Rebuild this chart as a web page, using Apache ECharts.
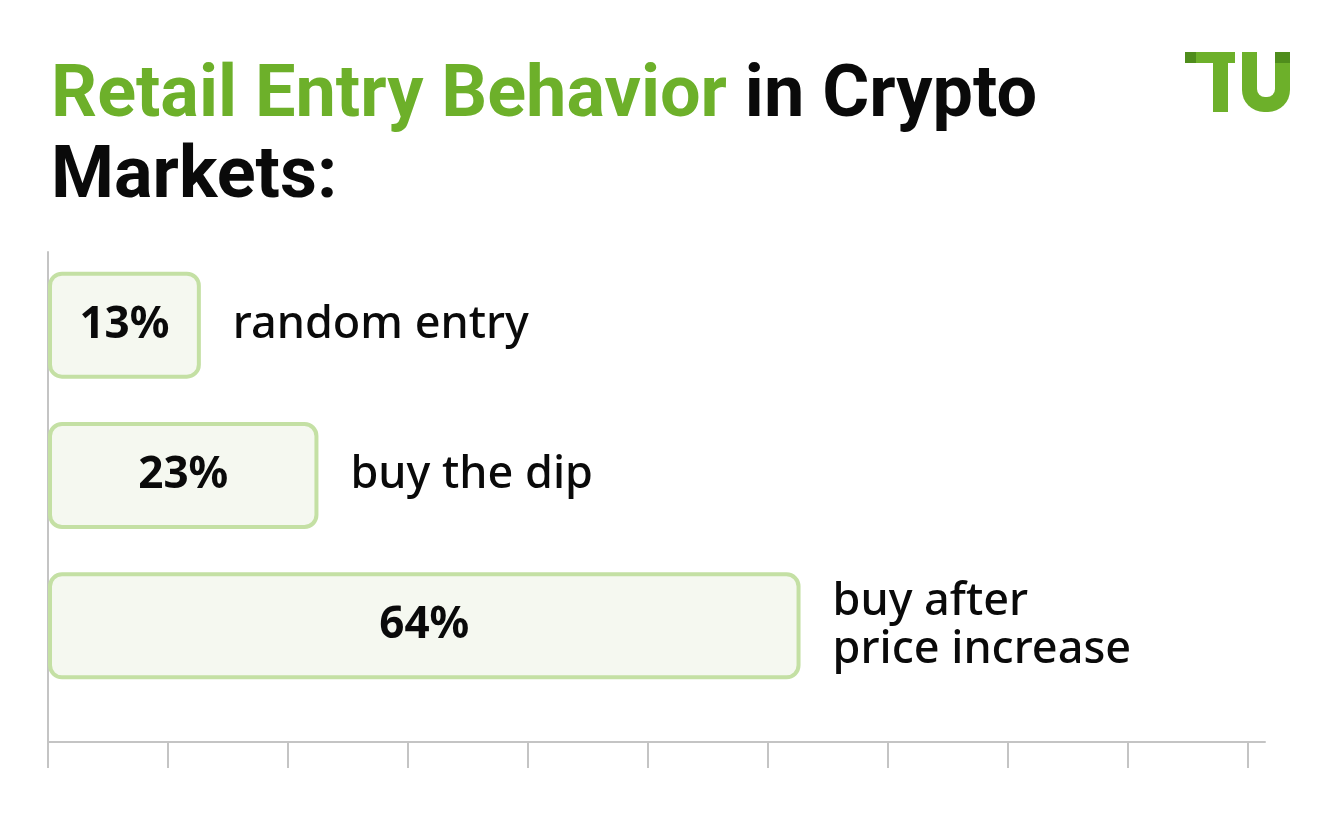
<!DOCTYPE html>
<html>
<head>
<meta charset="utf-8">
<script src="https://cdn.jsdelivr.net/npm/echarts@6/dist/echarts.min.js"></script>
<style>
  html, body { margin: 0; padding: 0; background: #fff; }
  #main { width: 1340px; height: 820px; }
</style>
</head>
<body>
<div id="main"></div>
<script>
// 数据
var categories = ['random entry', 'buy the dip', 'buy after\nprice increase'];
var shares = [13, 23, 64];
var xMax = 103.5;
var xTicks = [0, 10.2, 20.4, 30.6, 40.8, 51, 61.2, 71.4, 81.6, 91.8, 102];

var green = '#6db02a';
var darkGreen = '#4f8d1c';
var axisGrey = '#c4c4c4';

var chart = echarts.init(document.getElementById('main'));

var option = {
    backgroundColor: '#fff',
    animation: false,
    title: {
        left: 46,
        top: 52,
        text: '{g|Retail Entry Behavior }{b|in Crypto}\n{b|Markets:}',
        textStyle: {
            rich: {
                g: { fontFamily: 'Roboto', fontWeight: 'bold', fontSize: 72, lineHeight: 81, color: green },
                b: { fontFamily: 'Roboto', fontWeight: 'bold', fontSize: 72, lineHeight: 81, color: '#0a0a0a' }
            }
        }
    },
    // 坐标框 + 条形
    grid: [
        { left: 48, right: 75, top: 252, bottom: 78 },
        { left: 48, right: 75, top: 250, height: 451 }
    ],
    xAxis: [{
        gridIndex: 0,
        type: 'value',
        min: 0,
        max: xMax,
        axisLine: { show: true, lineStyle: { color: axisGrey, width: 2 } },
        axisTick: { show: true, inside: false, length: 26, customValues: xTicks, lineStyle: { color: axisGrey, width: 2 } },
        axisLabel: { show: false },
        splitLine: { show: false }
    }, {
        gridIndex: 1,
        type: 'value',
        min: 0,
        max: xMax,
        show: false
    }],
    yAxis: [{
        gridIndex: 0,
        type: 'value',
        axisLine: { show: true, onZero: false, lineStyle: { color: axisGrey, width: 2 } },
        axisTick: { show: false },
        axisLabel: { show: false },
        splitLine: { show: false }
    }, {
        gridIndex: 1,
        type: 'category',
        inverse: true,
        data: categories,
        show: false
    }],
    series: [{
        type: 'bar',
        xAxisIndex: 1,
        yAxisIndex: 1,
        data: shares,
        barWidth: 107,
        itemStyle: {
            color: '#f5f8f0',
            borderColor: '#c4e0a4',
            borderWidth: 4,
            borderRadius: 12
        },
        label: {
            show: true,
            position: 'inside',
            formatter: '{c}%',
            fontFamily: 'Noto Sans',
            fontWeight: 'bold',
            fontSize: 44,
            color: '#0a0a0a'
        }
    }, {
        type: 'bar',
        xAxisIndex: 1,
        yAxisIndex: 1,
        data: shares,
        barWidth: 107,
        barGap: '-100%',
        itemStyle: { color: 'rgba(0,0,0,0)' },
        label: {
            show: true,
            position: 'right',
            distance: 32,
            align: 'left',
            formatter: function (p) { return p.name; },
            fontFamily: 'Noto Sans',
            fontWeight: 500,
            fontSize: 45,
            lineHeight: 48,
            color: '#0a0a0a'
        }
    }],
    // TU 标志
    graphic: [
        { type: 'rect', shape: { x: 1196, y: 52, width: 39, height: 11 }, style: { fill: green } },
        { type: 'rect', shape: { x: 1185, y: 52, width: 11, height: 11 }, style: { fill: darkGreen } },
        { type: 'rect', shape: { x: 1213, y: 52, width: 15, height: 60 }, style: { fill: green } },
        { type: 'rect', shape: { x: 1242, y: 52, width: 48, height: 60, r: [0, 0, 22, 22] }, style: { fill: green } },
        { type: 'rect', shape: { x: 1257, y: 50, width: 18, height: 47, r: [0, 0, 8, 8] }, style: { fill: '#fff' } },
        { type: 'rect', shape: { x: 1275, y: 52, width: 15, height: 11 }, style: { fill: darkGreen } }
    ]
};

chart.setOption(option);
</script>
</body>
</html>
